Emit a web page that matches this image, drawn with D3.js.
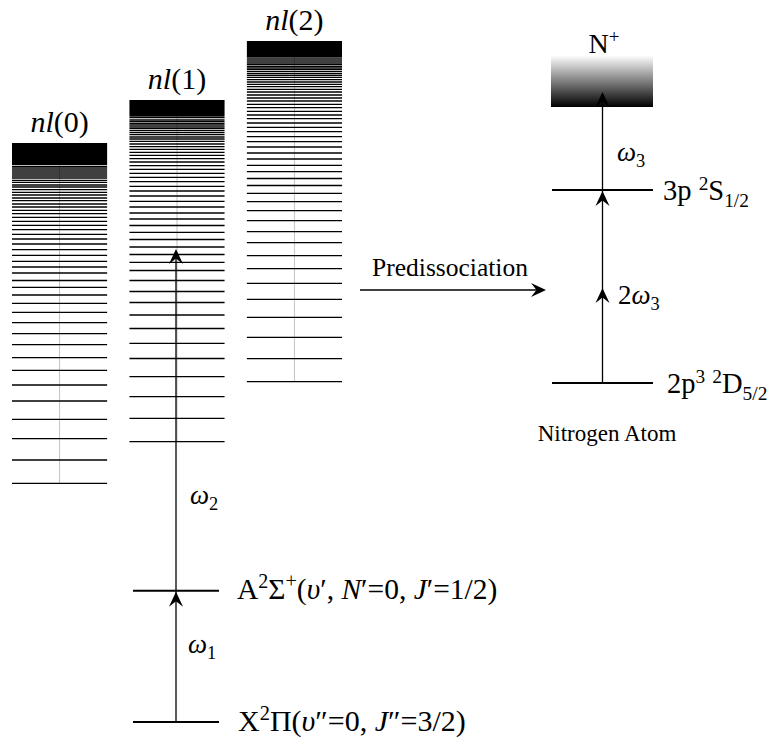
<!DOCTYPE html>
<html>
<head>
<meta charset="utf-8">
<script src="https://cdn.jsdelivr.net/npm/d3@7"></script>
<style>
  html, body { margin: 0; padding: 0; background: #fff; }
  svg text { font-family: "Liberation Serif", "Times New Roman", serif; fill: #000; }
</style>
</head>
<body>
<svg id="chart" width="773" height="745" font-family="'Liberation Serif', 'Times New Roman', serif"></svg>
<script>
// Rydberg series of NO (energies in arbitrary units above X state, v''=0)
const seriesNames = ["nl(0)", "nl(1)", "nl(2)"];
const nl0Levels = [555.7, 554, 552, 550, 548, 546, 544, 541.7, 539.7, 537, 535, 532.3, 529.7, 527, 524,
  521.3, 518, 515, 511.7, 508.3, 504.7, 500.7, 496.7, 492.3, 487.7, 483, 478, 472.3, 466.7, 460.7, 455,
  449, 441.5, 434.7, 427, 418.7, 409.7, 399.3, 388.3, 377.3, 364.3, 351.7, 337, 321, 302.7, 283.3, 262, 238.7];
const nl1Levels = [604.3, 602, 600.3, 598.7, 597, 595, 593.3, 591.3, 589.3, 587.3, 585, 583, 580.7, 578,
  575.3, 572.7, 569.7, 566.7, 563.3, 560, 556.3, 552.7, 548.7, 544.7, 540.3, 535.7, 531, 526, 520.7, 515,
  509, 503, 496.5, 489.7, 482.5, 475, 467.5, 459.7, 451.5, 441.5, 430.5, 419.5, 407, 393.5, 378.7, 363.5,
  345.3, 325.3, 303.7, 280.3];
const nl2Levels = [663, 661, 659, 657.3, 655.7, 654, 652.3, 650.3, 648.3, 646.7, 644.7, 642.3, 640, 637.7,
  635.3, 632.7, 630, 627, 624, 621, 617.7, 614.3, 610.7, 607, 603.3, 599, 594.7, 590.3, 585.3, 580.3, 575,
  569, 563, 556.7, 550.3, 543.5, 536.5, 528.7, 520.3, 511.3, 501.3, 490.3, 479.3, 466.3, 453.3, 438.7,
  422.7, 404.7, 384.7, 363.3, 340.3];
// unresolved high-n part of each series: [lower, upper]
const seriesLimits = [[557, 579], [605.3, 622], [664.3, 681]];

// NO valence states
const stateX = 0;
const stateA = 131.3;
// level reached by omega2
const omega2Target = 475;

// Nitrogen atom
const atomD = 339;            // 2p3 2D5/2
const atomS = 532;            // 3p 2S1/2
const atomIon = [615, 675];   // N+ continuum
const omega3Tip = 630;
const twoOmega3Head = 434;

const svg = d3.select("#chart");
const y = d3.scaleLinear().domain([0, 681]).range([722, 41]);
const x = d3.scaleBand().domain(seriesNames).range([12, 342]).paddingInner(0.19);
const bw = x.bandwidth();
const cx = n => x(n) + bw / 2;

const defs = svg.append("defs");
const grad = defs.append("linearGradient").attr("id", "ionGrad")
  .attr("x1", 0).attr("y1", 0).attr("x2", 0).attr("y2", 1);
grad.append("stop").attr("offset", "0%").attr("stop-color", "#fff");
grad.append("stop").attr("offset", "14%").attr("stop-color", "#fff");
grad.append("stop").attr("offset", "100%").attr("stop-color", "#000");

// arrowhead (pointing up, tip at origin)
const headPath = "M0,0 L-7,15 L0,9.5 L7,15 Z";
function arrowHead(g, px, py, rot) {
  g.append("path").attr("d", headPath)
    .attr("transform", `translate(${px},${py}) rotate(${rot || 0})`)
    .attr("fill", "#000");
}

// rich text helper: segments [text, kind] kind: r (roman), i (italic), sup, sub
function rich(g, px, py, segs, size, anchor) {
  const t = g.append("text").attr("x", px).attr("y", py)
    .attr("font-size", size).attr("text-anchor", anchor || "start");
  let shift = 0;
  segs.forEach(([s, k]) => {
    let target = 0, fs = size, italic = false;
    if (k === "sup") { target = -0.36 * size; fs = size * 0.68; }
    if (k === "sub") { target = 0.24 * size; fs = size * 0.68; }
    if (k === "i") italic = true;
    const ts = t.append("tspan").text(s).attr("font-size", fs)
      .attr("dy", target - shift);
    if (italic) ts.attr("font-style", "italic");
    shift = target;
  });
  return t;
}

// Rydberg columns
const allLevels = [nl0Levels, nl1Levels, nl2Levels];
seriesNames.forEach((name, i) => {
  const g = svg.append("g");
  const lim = seriesLimits[i];
  g.append("rect").attr("x", x(name)).attr("width", bw)
    .attr("y", y(lim[1])).attr("height", y(lim[0]) - y(lim[1]))
    .attr("fill", "#000");
  g.selectAll("line.lv").data(allLevels[i]).join("line")
    .attr("x1", x(name)).attr("x2", x(name) + bw)
    .attr("y1", d => y(d)).attr("y2", d => y(d))
    .attr("stroke", "#000").attr("stroke-width", 1.3);
  g.append("line").attr("x1", cx(name)).attr("x2", cx(name))
    .attr("y1", y(lim[1])).attr("y2", y(d3.min(allLevels[i])))
    .attr("stroke", "#000").attr("stroke-opacity", 0.3).attr("stroke-width", 0.8);
  const lab = svg.append("text").attr("x", cx(name)).attr("y", y(lim[1]) - 11)
    .attr("text-anchor", "middle").attr("font-size", 30);
  lab.append("tspan").text("nl").attr("font-style", "italic");
  lab.append("tspan").text(name.slice(2));
});

// NO valence levels and excitation arrows
const mx = cx("nl(1)") - 1;
const mHalf = 43;
[stateX, stateA].forEach(e => {
  svg.append("line").attr("x1", mx - mHalf).attr("x2", mx + mHalf)
    .attr("y1", y(e)).attr("y2", y(e)).attr("stroke", "#000").attr("stroke-width", 2);
});
svg.append("line").attr("x1", mx).attr("x2", mx).attr("y1", y(stateX)).attr("y2", y(omega2Target) + 4)
  .attr("stroke", "#000").attr("stroke-width", 1.3);
arrowHead(svg, mx, y(stateA) + 1);
arrowHead(svg, mx, y(omega2Target) + 2);

rich(svg, 237, y(stateA) + 8, [["A", "r"], ["2", "sup"], ["Σ", "r"], ["+", "sup"], ["(", "r"], ["υ", "i"],
  ["′, ", "r"], ["N", "i"], ["′=0, ", "r"], ["J", "i"], ["′=1/2)", "r"]], 29.5);
rich(svg, 238, y(stateX) + 9, [["X", "r"], ["2", "sup"], ["Π(", "r"], ["υ", "i"], ["″=0, ", "r"],
  ["J", "i"], ["″=3/2)", "r"]], 30);
rich(svg, 188, 653, [["ω", "i"], ["1", "sub"]], 27);
rich(svg, 190, 504, [["ω", "i"], ["2", "sub"]], 27);

// Predissociation
svg.append("line").attr("x1", 360).attr("x2", 540).attr("y1", 290).attr("y2", 290)
  .attr("stroke", "#000").attr("stroke-width", 1.3);
arrowHead(svg, 546, 290, 90);
svg.append("text").attr("x", 450).attr("y", 276).attr("text-anchor", "middle")
  .attr("font-size", 25.5).text("Predissociation");

// Nitrogen atom
const ax = 602.5, aHalf = 50.5;
svg.append("rect").attr("x", 551).attr("width", 102)
  .attr("y", y(atomIon[1])).attr("height", y(atomIon[0]) - y(atomIon[1]))
  .attr("fill", "url(#ionGrad)");
[atomD, atomS].forEach(e => {
  svg.append("line").attr("x1", ax - aHalf).attr("x2", ax + aHalf)
    .attr("y1", y(e)).attr("y2", y(e)).attr("stroke", "#000").attr("stroke-width", 2);
});
svg.append("line").attr("x1", ax).attr("x2", ax).attr("y1", y(atomD)).attr("y2", y(omega3Tip) + 4)
  .attr("stroke", "#000").attr("stroke-width", 1.3);
arrowHead(svg, ax, y(twoOmega3Head));
arrowHead(svg, ax, y(atomS) + 1);
arrowHead(svg, ax, y(omega3Tip));

rich(svg, 604, 53, [["N", "r"], ["+", "sup"]], 28, "middle");
rich(svg, 663, 200, [["3p ", "r"], ["2", "sup"], ["S", "r"], ["1/2", "sub"]], 28.5);
rich(svg, 667, 393, [["2p", "r"], ["3", "sup"], [" ", "r"], ["2", "sup"], ["D", "r"], ["5/2", "sub"]], 28.5);
rich(svg, 617, 161, [["ω", "i"], ["3", "sub"]], 27);
rich(svg, 618, 304, [["2", "r"], ["ω", "i"], ["3", "sub"]], 27);
svg.append("text").attr("x", 607).attr("y", 441).attr("text-anchor", "middle")
  .attr("font-size", 23).text("Nitrogen Atom");
</script>
</body>
</html>
